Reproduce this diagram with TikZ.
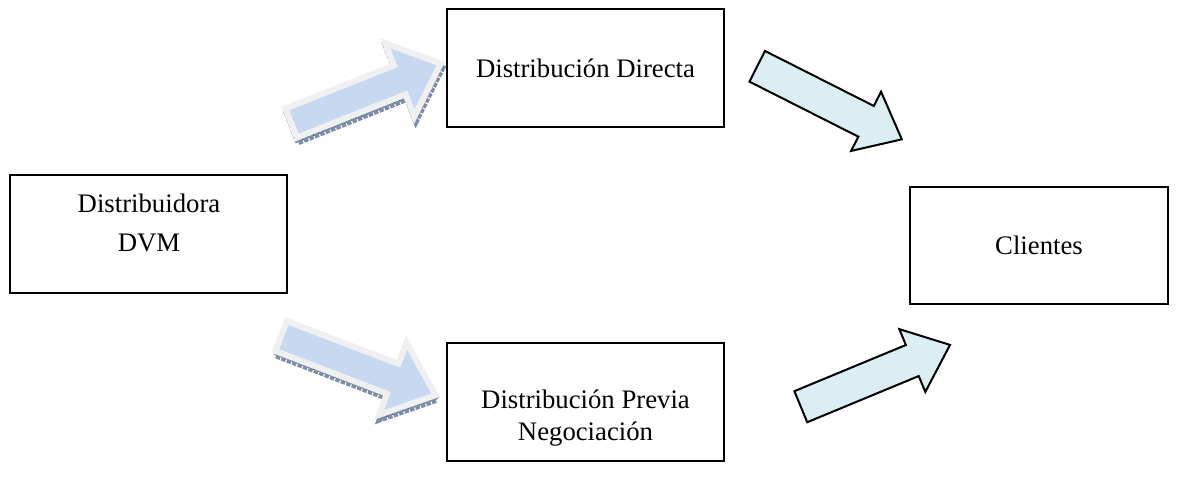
\documentclass[tikz,border=0pt]{standalone}
\usepackage{fontspec}
\setmainfont{Liberation Serif}
\usetikzlibrary{patterns}
\usepackage{xcolor}

\newcommand{\pxu}{0.449pt}
\definecolor{azulflecha}{HTML}{DBEEF4}
\definecolor{azulclaro}{HTML}{C6D9F1}
\definecolor{grisborde}{HTML}{F0F0F0}
\definecolor{sombra}{HTML}{7D8CA8}

% flecha de bloque: estilo, origen, angulo, largo, medio cuerpo, media punta, largo punta
\newcommand{\flechabloque}[7]{%
  \begin{scope}[shift={#2}, rotate=#3]
    \path[#1] (0,#5) -- ({#4-#7},#5) -- ({#4-#7},#6) -- (#4,0)
      -- ({#4-#7},-#6) -- ({#4-#7},-#5) -- (0,-#5) -- cycle;
  \end{scope}}

\begin{document}
\begin{tikzpicture}[x=\pxu, y=-\pxu,
    caja/.style={draw, line width=0.9pt, minimum width=277*\pxu, minimum height=118*\pxu},
    texto/.style={align=center, font=\fontsize{12}{14.4}\selectfont},
    derecha/.style={draw=black, fill=azulflecha, line width=0.9pt, line join=miter},
    izquierda/.style={draw=grisborde, fill=azulclaro, line width=6*\pxu, line join=miter},
    sombreado/.style={draw=sombra, line width=6*\pxu, line join=miter, dash pattern=on 2pt off 0.6pt,
      preaction={fill=sombra}, pattern=crosshatch, pattern color=sombra!60!black}]
    \useasboundingbox (0,0) rectangle (1180,476);

    % cajas
    \node[caja] (dvm) at (148.5,234) {};
    \node[caja] (directa) at (585.5,68) {};
    \node[caja] (previa) at (585.5,402) {};
    \node[caja, minimum width=258*\pxu, minimum height=117*\pxu] (clientes) at (1039,245.5) {};

    \node[texto] (dvm-t) at (149,222.5) {Distribuidora\\[3.1pt]DVM};
    \node[texto] (directa-t) at (directa) {Distribución Directa};
    \node[texto] (previa-t) at (585.5,418) {Distribución Previa\\Negociación};
    \node[texto] (clientes-t) at (clientes) {Clientes};

    % flechas de la izquierda, con sombra
    \flechabloque{sombreado}{(292.6,127.6)}{21.7}{161}{15.6}{39.5}{44}
    \flechabloque{sombreado}{(282.1,340.6)}{-20.9}{165.5}{16}{38.7}{46}
    \flechabloque{izquierda}{(291.1,123.1)}{21.7}{161}{15.6}{39.5}{44}
    \flechabloque{izquierda}{(281.1,336.1)}{-20.9}{165.5}{16}{38.7}{46}

    % flechas hacia clientes
    \flechabloque{derecha}{(757.2,66.3)}{-26.8}{162}{17.2}{33.2}{40}
    \flechabloque{derecha}{(800.8,406.7)}{22.5}{161.5}{16.8}{34}{40.8}
\end{tikzpicture}
\end{document}
